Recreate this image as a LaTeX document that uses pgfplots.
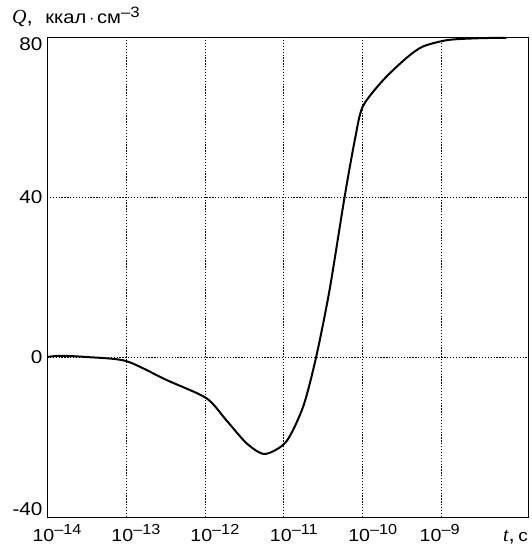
\documentclass[border=0pt]{standalone}
\usepackage{fontspec}
\setmainfont[FakeStretch=1.12]{Liberation Sans}
\newfontfamily\serifit{Liberation Serif}
\usepackage{pgfplots}
\pgfplotsset{compat=1.18}
\newcommand{\tl}[1]{10\raisebox{7pt}{\fontsize{14.5}{14.5}\selectfont –#1}}
\begin{document}
\begin{tikzpicture}
\path[use as bounding box] (-47pt,-27pt) rectangle (484pt,517pt);
\begin{axis}[
  at={(0,0)}, anchor=south west,
  scale only axis,
  width=481pt, height=480pt,
  xmode=log,
  xmin=1e-14, xmax=1.24e-8,
  ymin=-40, ymax=80,
  xtick={1e-14,1e-13,1e-12,1e-11,1e-10,1e-9},
  xticklabels={\tl{14},\tl{13},\tl{12},\tl{11},\tl{10},\hspace{-24pt}\tl{9}},
  ytick={-40,0,40,80},
  yticklabels={\raisebox{8.5pt}{-40},0,40,\raisebox{-6.5pt}{80}},
  minor xtick={},
  major tick length=0pt,
  minor tick length=0pt,
  grid=major,
  grid style={black, line width=0.7pt, dash pattern=on 1.3pt off 1.6pt},
  axis line style={black, line width=0.8pt},
  xticklabel style={font=\fontsize{17.5}{19}\selectfont, anchor=base, yshift=-24.5pt, xshift=10pt},
  yticklabel style={font=\fontsize{18.5}{21}\selectfont, anchor=base east, yshift=-6.5pt, xshift=-1pt},
  clip=false,
]
\addplot[black, line width=2pt, smooth, tension=0.45] coordinates {
(1e-14, 0.0)
(1.48e-14, 0.3)
(3.16e-14, 0.0)
(1e-13, -1.0)
(3.27e-13, -5.75)
(1.047e-12, -10.3)
(1.86e-12, -15.75)
(3.39e-12, -21.6)
(5.75e-12, -24.25)
(1.07e-11, -21.2)
(1.76e-11, -12.4)
(2.57e-11, 0)
(3.80e-11, 16.75)
(5.89e-11, 40)
(7.94e-11, 54.25)
(1e-10, 62.6)
(1.82e-10, 69.25)
(3.55e-10, 74.7)
(5.75e-10, 77.6)
(1.20e-9, 79.25)
(3.02e-9, 79.7)
(6.61e-9, 79.8)
};
\node[anchor=base east, inner sep=0pt] at (rel axis cs:1,0) [yshift=-24.5pt, xshift=0pt] {\fontsize{20}{22}\selectfont{\serifit\itshape t},\,\fontsize{17}{19}\selectfont с};
\node[anchor=base west, inner sep=0pt] at (rel axis cs:0,1) [xshift=-35pt, yshift=14pt] {\fontsize{20}{22}\selectfont{\serifit\itshape Q},\ \ \fontsize{18}{20}\selectfont ккал\,$\cdot$\,см\raisebox{6pt}{\fontsize{15}{15}\selectfont –3}};
\end{axis}
\end{tikzpicture}
\end{document}
